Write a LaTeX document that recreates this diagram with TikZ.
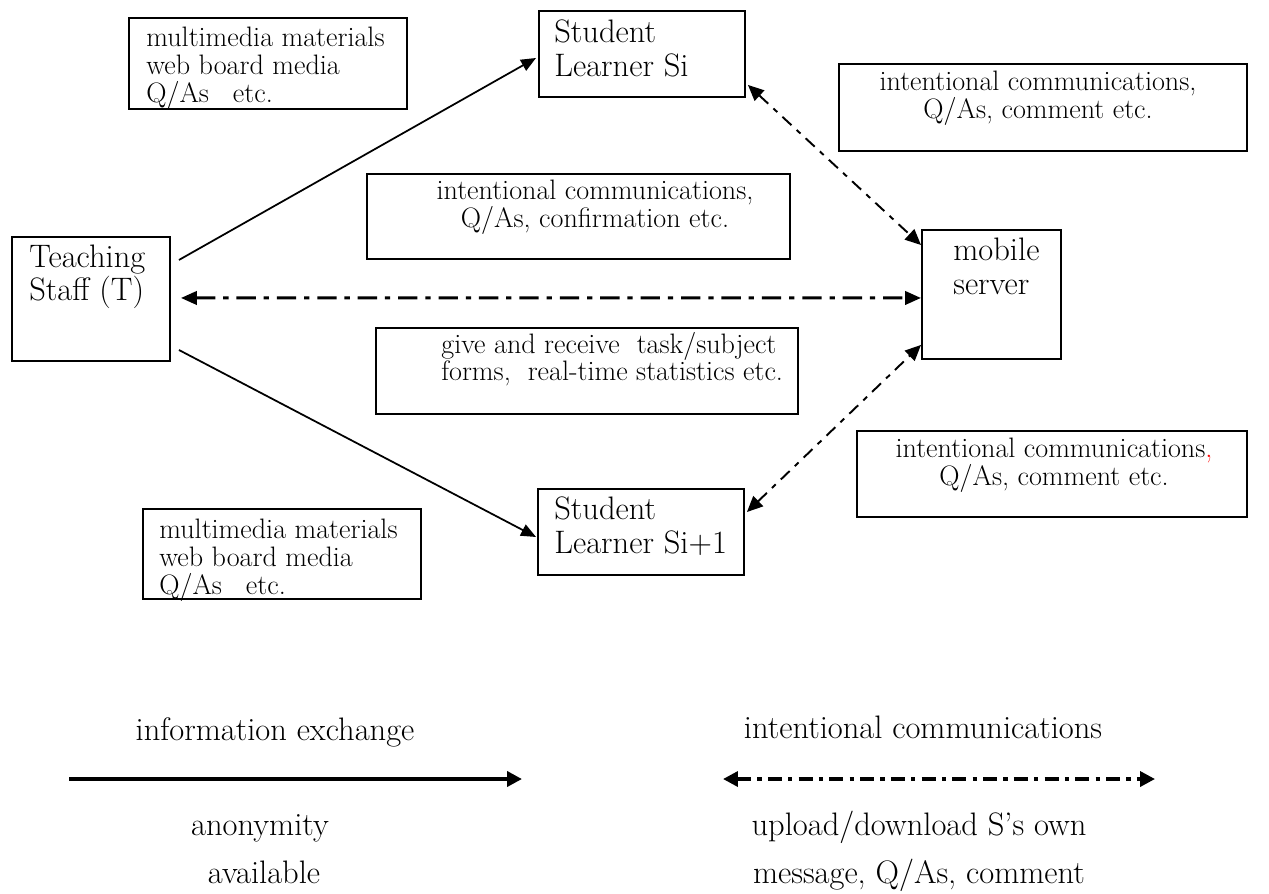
\documentclass[tikz,border=0pt]{standalone}
\usepackage{tikz}
\usetikzlibrary{arrows.meta}

\begin{document}
\begin{tikzpicture}[
  frame/.style={draw=black, line width=1.1pt, inner sep=0pt, anchor=north west},
  boxtxt/.style={font=\fontsize{16}{15.9}\selectfont, inner sep=0pt, anchor=base west, align=left},
  boxtxtc/.style={boxtxt, anchor=base, align=center},
  bigtxt/.style={font=\fontsize{18.5}{19.3}\selectfont, inner sep=0pt, anchor=base west, align=left},
  legtxt/.style={font=\fontsize{18.5}{20}\selectfont, inner sep=0pt, anchor=base},
  infoedge/.style={draw=black, line width=1pt, -{Triangle[length=8.5pt,width=7pt]}},
  icedge/.style={draw=black, line width=1.7pt, dash pattern=on 11pt off 4.5pt on 3pt off 4.5pt,
    {Triangle[length=9pt,width=7.5pt]}-{Triangle[length=9pt,width=7.5pt]}},
  srvedge/.style={draw=black, line width=1.1pt, dash pattern=on 7pt off 4pt on 3pt off 4pt,
    {Triangle[length=9pt,width=8pt]}-{Triangle[length=9pt,width=8pt]}},
  leginfo/.style={draw=black, line width=2.3pt, -{Triangle[length=8.5pt,width=8.5pt]}},
  legic/.style={draw=black, line width=2pt, dash pattern=on 8pt off 3.5pt on 2.5pt off 3.5pt,
    {Triangle[length=8.5pt,width=8.5pt]}-{Triangle[length=8.5pt,width=8.5pt]}}
]
\useasboundingbox (0,0) rectangle (25.38,-17.86);

% frames
\node[frame, minimum width=5.56cm, minimum height=1.82cm] (mmTop) at (2.56,-0.34) {};
\node[frame, minimum width=4.12cm, minimum height=1.72cm] (si) at (10.76,-0.20) {};
\node[frame, minimum width=8.16cm, minimum height=1.74cm] (icTop) at (16.76,-1.26) {};
\node[frame, minimum width=8.46cm, minimum height=1.70cm] (icMid) at (7.32,-3.46) {};
\node[frame, minimum width=3.16cm, minimum height=2.48cm] (teacher) at (0.22,-4.72) {};
\node[frame, minimum width=2.78cm, minimum height=2.58cm] (server) at (18.42,-4.58) {};
\node[frame, minimum width=8.44cm, minimum height=1.72cm] (give) at (7.50,-6.54) {};
\node[frame, minimum width=7.80cm, minimum height=1.72cm] (icBot) at (17.12,-8.60) {};
\node[frame, minimum width=4.12cm, minimum height=1.72cm] (si1) at (10.74,-9.76) {};
\node[frame, minimum width=5.56cm, minimum height=1.80cm] (mmBot) at (2.84,-10.16) {};

% texts (placed at the baseline of their last line)
\node[boxtxt] (mmTopT) at (2.92,-2.04) {multimedia materials\\web board media\\Q/As\hspace{0.85em}etc.};
\node[bigtxt] (siT) at (11.08,-1.52) {Student\\Learner Si};
\node[boxtxtc] (icTopT) at (20.76,-2.36) {intentional communications,\\Q/As, comment etc.};
\node[boxtxtc] (icMidT) at (11.90,-4.54) {intentional communications,\\Q/As, confirmation etc.};
\node[bigtxt, font=\fontsize{18.5}{17.6}\selectfont] (teacherT) at (0.58,-6.00) {Teaching\\Staff (T)};
\node[bigtxt] (serverT) at (19.06,-5.88) {mobile\\server};
\node[boxtxt, font=\fontsize{16}{15.3}\selectfont] (giveT) at (8.82,-7.60) {give and receive\ \ task/subject\\forms,\ \ real-time statistics etc.};
\node[boxtxtc] (icBotT) at (21.08,-9.70) {intentional communications\textcolor{red}{,}\\Q/As, comment etc.};
\node[bigtxt] (si1T) at (11.08,-11.06) {Student\\Learner Si+1};
\node[boxtxt] (mmBotT) at (3.18,-11.88) {multimedia materials\\web board media\\Q/As\hspace{0.85em}etc.};

% connectors
\draw[infoedge] ([xshift=0.16cm,yshift=0.78cm]teacher.east) -- ([xshift=-0.04cm,yshift=-0.08cm]si.west);
\draw[infoedge] ([xshift=0.16cm,yshift=-1.02cm]teacher.east) -- ([xshift=-0.02cm,yshift=-0.10cm]si1.west);
\draw[icedge] ([xshift=0.20cm,yshift=0.02cm]teacher.east) -- ([yshift=-0.07cm]server.west);
\draw[srvedge] ([xshift=0.04cm,yshift=0.26cm]si.south east) -- ([yshift=-0.32cm]server.north west);
\draw[srvedge] ([xshift=0.04cm,yshift=-0.48cm]si1.north east) -- ([yshift=0.30cm]server.south west);

% legend
\coordinate (infoA) at (1.38,-15.58);
\coordinate (infoB) at (10.44,-15.58);
\coordinate (icA) at (14.46,-15.58);
\coordinate (icB) at (23.10,-15.58);
\node[legtxt] (legInfo) at (5.50,-14.80) {information exchange};
\node[legtxt] (legIc) at (18.46,-14.76) {intentional communications};
\draw[leginfo] (infoA) -- (infoB);
\draw[legic] (icA) -- (icB);
\node[legtxt] (legAnon) at (5.20,-16.70) {anonymity};
\node[legtxt] (legAvail) at (5.28,-17.66) {available};
\node[legtxt] (legUp) at (18.38,-16.70) {upload/download S's own};
\node[legtxt] (legMsg) at (18.38,-17.66) {message, Q/As, comment};

\end{tikzpicture}
\end{document}
